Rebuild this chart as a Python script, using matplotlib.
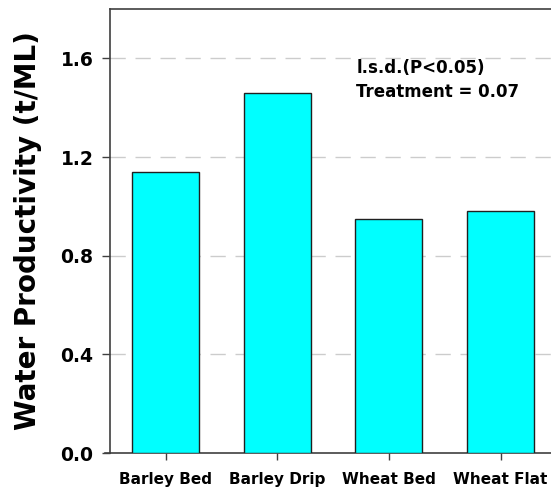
import numpy as np
import matplotlib
matplotlib.use('Agg')
import matplotlib.pyplot as plt

# data
treatments = ['Barley Bed', 'Barley Drip', 'Wheat Bed', 'Wheat Flat']
productivity = [1.14, 1.46, 0.95, 0.98]
yticks = [0.0, 0.4, 0.8, 1.2, 1.6]
lsd_text = 'l.s.d.(P<0.05)\nTreatment = 0.07'

plt.rcParams['font.family'] = ['DejaVu Sans']
plt.rcParams['font.weight'] = 'bold'

fig = plt.figure(figsize=(5.51, 4.90), dpi=100)
ax = fig.add_axes([0.1996, 0.0755, 0.81, 0.9061])

x = np.arange(len(treatments))
ax.bar(x, productivity, width=0.6, color='#00ffff', edgecolor='#202020',
       linewidth=1.0, zorder=3)

ax.set_xlim(-0.5, 3.5)
ax.set_ylim(0, 1.8)
ax.set_yticks(yticks)
ax.set_yticklabels([f'{v:.1f}' for v in yticks], fontsize=13.5, fontweight='bold')
ax.set_xticks(x)
ax.set_xticklabels(treatments, fontsize=11, fontweight='bold')

# dashed horizontal grid
for v in yticks[1:]:
    ax.axhline(v, color='#cccccc', linewidth=1.0, linestyle=(0, (11, 7)), zorder=1)

for side in ['left', 'top', 'bottom', 'right']:
    ax.spines[side].set_color('#404040')
    ax.spines[side].set_linewidth(1.2)

ax.tick_params(axis='y', direction='out', length=6, width=1, color='#404040', pad=6)
ax.tick_params(axis='x', direction='out', length=5, width=1, color='#404040', pad=9)

# bottom axis line runs a little past the left spine
ax.plot([-0.012, 0], [0, 0], transform=ax.transAxes, color='#404040',
        linewidth=1.2, clip_on=False)

ax.set_ylabel('Water Productivity (t/ML)', fontsize=20, fontweight='bold', labelpad=13)

ax.text(0.552, 0.887, lsd_text, transform=ax.transAxes, fontsize=12,
        fontweight='bold', va='top', ha='left', linespacing=1.45)

fig.savefig('out.png', dpi=100)
